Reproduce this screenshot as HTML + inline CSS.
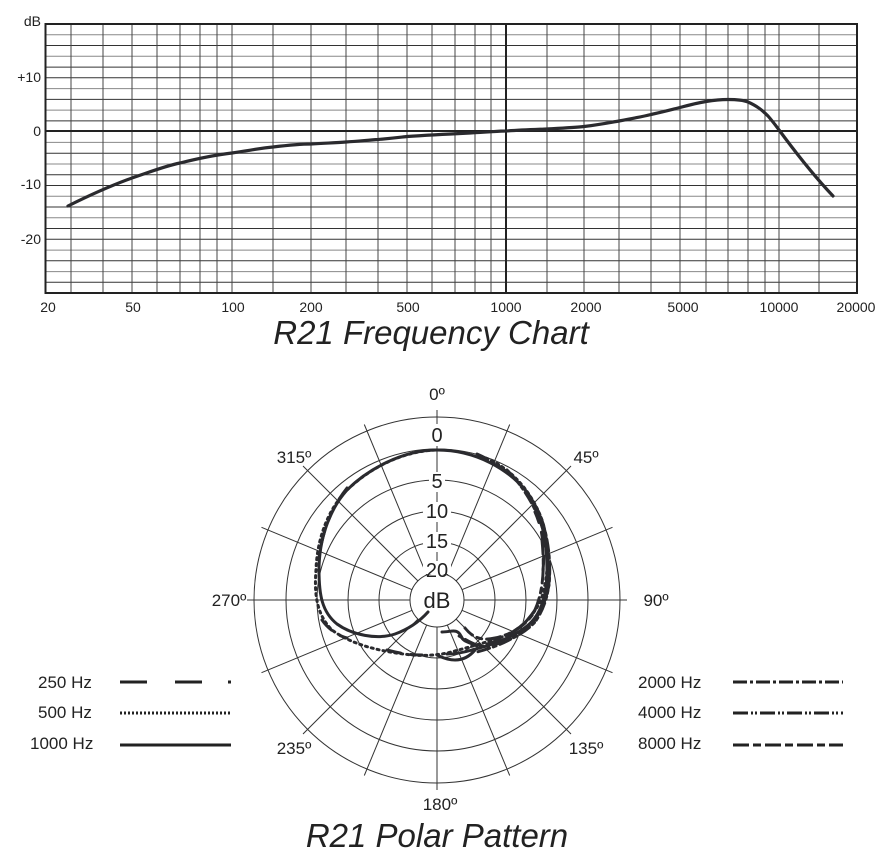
<!DOCTYPE html>
<html><head><meta charset="utf-8"><style>
html,body{margin:0;padding:0;background:#fff;}
svg{display:block;font-family:"Liberation Sans",sans-serif;}
</style></head><body>
<svg width="895" height="865" viewBox="0 0 895 865" xmlns="http://www.w3.org/2000/svg">
<rect width="895" height="865" fill="#fff"/>
<g id="freq">
<g stroke="#333" stroke-width="1">
<line x1="45" y1="34.8" x2="857" y2="34.8" stroke="#888"/>
<line x1="45" y1="45.5" x2="857" y2="45.5"/>
<line x1="45" y1="56.3" x2="857" y2="56.3" stroke="#888"/>
<line x1="45" y1="67.1" x2="857" y2="67.1"/>
<line x1="45" y1="77.8" x2="857" y2="77.8"/>
<line x1="45" y1="88.6" x2="857" y2="88.6" stroke="#888"/>
<line x1="45" y1="99.4" x2="857" y2="99.4"/>
<line x1="45" y1="110.1" x2="857" y2="110.1" stroke="#888"/>
<line x1="45" y1="120.9" x2="857" y2="120.9"/>
<line x1="45" y1="142.4" x2="857" y2="142.4" stroke="#888"/>
<line x1="45" y1="153.2" x2="857" y2="153.2"/>
<line x1="45" y1="164" x2="857" y2="164" stroke="#888"/>
<line x1="45" y1="174.7" x2="857" y2="174.7"/>
<line x1="45" y1="185.5" x2="857" y2="185.5"/>
<line x1="45" y1="196.2" x2="857" y2="196.2" stroke="#888"/>
<line x1="45" y1="207" x2="857" y2="207"/>
<line x1="45" y1="217.8" x2="857" y2="217.8" stroke="#888"/>
<line x1="45" y1="228.5" x2="857" y2="228.5"/>
<line x1="45" y1="239.3" x2="857" y2="239.3"/>
<line x1="45" y1="250.1" x2="857" y2="250.1" stroke="#888"/>
<line x1="45" y1="260.8" x2="857" y2="260.8"/>
<line x1="45" y1="271.6" x2="857" y2="271.6" stroke="#888"/>
<line x1="45" y1="282.3" x2="857" y2="282.3"/>
</g>
<g stroke="#444" stroke-width="1">
<line x1="71" y1="24" x2="71" y2="293"/><line x1="103" y1="24" x2="103" y2="293"/>
<line x1="132" y1="24" x2="132" y2="293"/><line x1="157" y1="24" x2="157" y2="293"/>
<line x1="180" y1="24" x2="180" y2="293"/><line x1="200" y1="24" x2="200" y2="293"/>
<line x1="217" y1="24" x2="217" y2="293"/><line x1="232" y1="24" x2="232" y2="293"/>
<line x1="273" y1="24" x2="273" y2="293"/><line x1="311" y1="24" x2="311" y2="293"/>
<line x1="346" y1="24" x2="346" y2="293"/><line x1="378" y1="24" x2="378" y2="293"/>
<line x1="407" y1="24" x2="407" y2="293"/><line x1="432" y1="24" x2="432" y2="293"/>
<line x1="455" y1="24" x2="455" y2="293"/><line x1="475" y1="24" x2="475" y2="293"/>
<line x1="491" y1="24" x2="491" y2="293"/>
<line x1="547" y1="24" x2="547" y2="293"/><line x1="584" y1="24" x2="584" y2="293"/>
<line x1="619" y1="24" x2="619" y2="293"/><line x1="651" y1="24" x2="651" y2="293"/>
<line x1="680" y1="24" x2="680" y2="293"/><line x1="706" y1="24" x2="706" y2="293"/>
<line x1="728" y1="24" x2="728" y2="293"/><line x1="748" y1="24" x2="748" y2="293"/>
<line x1="765" y1="24" x2="765" y2="293"/><line x1="779" y1="24" x2="779" y2="293"/>
<line x1="819" y1="24" x2="819" y2="293"/>
</g>
<line x1="506" y1="24" x2="506" y2="293" stroke="#222" stroke-width="2"/>
<line x1="45" y1="131" x2="857" y2="131" stroke="#222" stroke-width="2"/>
<rect x="45.5" y="24" width="811.5" height="269" fill="none" stroke="#222" stroke-width="2"/>
<path d="M68,206 C90,195 110,186 132,178 C150,172 165,166 180,163 C200,158 215,155 232,153 C252,150 262,148 273,147 C290,145 300,144 311,144 C325,143 335,143 346,142 C360,141 370,140 378,139.5 C395,138 402,137 407,136.5 C430,135 450,134 470,133 C490,132 500,131 506,131 C520,130 535,129.5 547,129 C565,128 575,127.5 584,126.5 C600,124.5 610,122.5 619,121 C635,118 645,116 651,114.5 C665,111.5 672,109.5 680,107.5 C693,104 700,102.5 706,101.5 C715,100 722,99.5 728,99.5 C737,99.5 743,100 748,102 C757,106 762,110 768,116 C775,124 779,130 785,138 C800,158 815,177 833,196" fill="none" stroke="#2a2a2e" stroke-width="3.2" stroke-linecap="round"/>
<g font-size="14" fill="#222">
<text x="41" y="26" text-anchor="end">dB</text>
<text x="41" y="82" text-anchor="end">+10</text>
<text x="41" y="136" text-anchor="end">0</text>
<text x="41" y="189" text-anchor="end">-10</text>
<text x="41" y="244" text-anchor="end">-20</text>
<text x="48" y="312" text-anchor="middle">20</text>
<text x="133" y="312" text-anchor="middle">50</text>
<text x="233" y="312" text-anchor="middle">100</text>
<text x="311" y="312" text-anchor="middle">200</text>
<text x="408" y="312" text-anchor="middle">500</text>
<text x="506" y="312" text-anchor="middle">1000</text>
<text x="586" y="312" text-anchor="middle">2000</text>
<text x="683" y="312" text-anchor="middle">5000</text>
<text x="779" y="312" text-anchor="middle">10000</text>
<text x="856" y="312" text-anchor="middle">20000</text>
</g>
<text x="431" y="344" font-size="33" font-style="italic" fill="#222" text-anchor="middle">R21 Frequency Chart</text>
</g>

<g transform="translate(437,600)">
<g fill="none" stroke="#333" stroke-width="1">
<circle r="27"/><circle r="58"/><circle r="89"/><circle r="120"/><circle r="151"/><circle r="183"/>
</g>
<g stroke="#333" stroke-width="1">
<line x1="0" y1="-27" x2="0" y2="-190"/><line x1="0" y1="27" x2="0" y2="190"/>
<line x1="27" y1="0" x2="190" y2="0"/><line x1="-27" y1="0" x2="-190" y2="0"/>
<line x1="10.3" y1="-24.9" x2="72.7" y2="-175.5"/><line x1="-10.3" y1="-24.9" x2="-72.7" y2="-175.5"/>
<line x1="10.3" y1="24.9" x2="72.7" y2="175.5"/><line x1="-10.3" y1="24.9" x2="-72.7" y2="175.5"/>
<line x1="24.9" y1="-10.3" x2="175.5" y2="-72.7"/><line x1="-24.9" y1="-10.3" x2="-175.5" y2="-72.7"/>
<line x1="24.9" y1="10.3" x2="175.5" y2="72.7"/><line x1="-24.9" y1="10.3" x2="-175.5" y2="72.7"/>
<line x1="19.1" y1="-19.1" x2="134" y2="-134"/><line x1="-19.1" y1="-19.1" x2="-134" y2="-134"/>
<line x1="19.1" y1="19.1" x2="134" y2="134"/><line x1="-19.1" y1="19.1" x2="-134" y2="134"/>
</g>
<g font-size="20" fill="#222" text-anchor="middle">
<rect x="-9" y="-176" width="18" height="22" fill="#fff"/>
<text x="0" y="-158">0</text>
<rect x="-8" y="-128" width="16" height="20" fill="#fff"/>
<text x="0" y="-112">5</text>
<rect x="-14" y="-98" width="28" height="20" fill="#fff"/>
<text x="0" y="-82">10</text>
<rect x="-14" y="-68" width="28" height="20" fill="#fff"/>
<text x="0" y="-52">15</text>
<rect x="-14" y="-39" width="28" height="13" fill="#fff"/>
<text x="0" y="-23">20</text>
<text x="0" y="8" font-size="22">dB</text>
</g>
<g font-size="17" fill="#222" text-anchor="middle">
<text x="0" y="-200">0º</text>
<text x="149" y="-137">45º</text>
<text x="-143" y="-137">315º</text>
<text x="219" y="6">90º</text>
<text x="-208" y="6">270º</text>
<text x="149" y="154">135º</text>
<text x="-143" y="154">235º</text>
<text x="3" y="210">180º</text>
</g>
<g fill="none" stroke="#2a2a2e" stroke-width="3" stroke-linecap="round">
<path d="M0,-150 C-35,-150 -70,-130 -90,-110 C-108,-90 -118,-60 -118,-30 C-118,-5 -115,12 -100,24 C-85,35 -60,40 -42,34 C-28,29 -18,22 -9,12"/>
<path d="M0,-150 C40,-150 72,-130 90,-108 C106,-85 110,-55 110,-30 C110,-5 104,15 90,26 C75,38 55,45 35,50 C25,53 18,54 10,54"/>
<path d="M2,56 C15,62 28,62 38,50"/>
<path d="M5,32 C14,32 20,28 24,36 C26,42 32,42 40,46"/>
<path d="M-2,-150 C-40,-148 -72,-128 -92,-108 C-110,-88 -120,-60 -121,-30 C-123,-5 -120,15 -105,30 C-85,45 -55,52 -25,55 C-10,56 0,55 10,53 C30,48 50,42 68,36 C85,28 97,15 104,0 C112,-25 113,-55 105,-80 C96,-105 75,-135 40,-145" stroke-dasharray="2 4"/>
<path d="M-90,-112 C-106,-92 -116,-65 -118,-40 M-115,20 C-108,30 -98,36 -90,38 M-50,50 C-35,54 -25,55 -15,55 M50,44 C70,38 86,28 98,10 M106,-30 C108,-50 106,-70 98,-88" stroke-dasharray="14 10"/>
<path d="M40,-146 C72,-132 92,-110 103,-85 C112,-62 114,-35 112,-15 C108,5 100,20 88,30 C72,42 55,48 40,52" stroke-dasharray="12 4 3 4"/>
<path d="M70,-130 C95,-105 110,-70 112,-40 C114,-15 110,5 98,22 C85,36 68,42 52,46 C40,48 30,40 22,36" stroke-dasharray="12 4 3 3 3 4"/>
<path d="M105,-60 C108,-30 106,-5 96,14 C86,28 72,35 58,38 C45,41 36,38 28,28" stroke-dasharray="14 5 5 5"/>
</g>
<text x="0" y="247" font-size="33" font-style="italic" fill="#222" text-anchor="middle">R21 Polar Pattern</text>
</g>

<g font-size="17" fill="#222">
<text x="38" y="688">250 Hz</text>
<text x="38" y="718">500 Hz</text>
<text x="30" y="749">1000 Hz</text>
<text x="638" y="688">2000 Hz</text>
<text x="638" y="718">4000 Hz</text>
<text x="638" y="749">8000 Hz</text>
</g>
<g stroke="#222" stroke-width="3" fill="none">
<path d="M120,682 H147 M175,682 H202 M228,682 H231"/>
<path d="M120,713 H231" stroke-dasharray="2 2"/>
<path d="M120,745 H231"/>
<path d="M733,682 H843" stroke-dasharray="14 3 3 3"/>
<path d="M733,713 H843" stroke-dasharray="15 3 2 2 2 3"/>
<path d="M733,745 H843" stroke-dasharray="16 4 8 4"/>
</g>
</svg>
</body></html>
